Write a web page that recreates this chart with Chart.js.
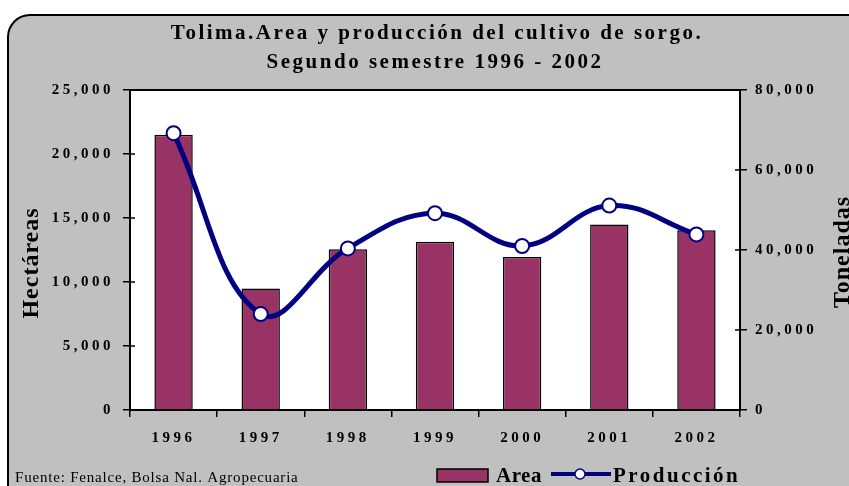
<!DOCTYPE html>
<html>
<head>
<meta charset="utf-8">
<script src="https://cdn.jsdelivr.net/npm/chart.js@4.4.1/dist/chart.umd.min.js"></script>
<style>
    body { margin: 0; background: #fff; }
    #wrap { width: 849px; height: 486px; }
</style>
</head>
<body>
<div id="wrap"><canvas id="chart" width="849" height="486"></canvas></div>
<script>
const years = ["1996", "1997", "1998", "1999", "2000", "2001", "2002"];
const area = [21500, 9500, 12550, 13150, 11950, 14500, 14050];
const produccion = [69200, 24000, 40400, 49200, 41000, 51100, 43900];
const areaTicks = [0, 5000, 10000, 15000, 20000, 25000];
const prodTicks = [0, 20000, 40000, 60000, 80000];

const serif = "'Liberation Serif', 'Times New Roman', serif";
const maroon = "#993366";
const navy = "#000080";

const fmt = (v) => v.toLocaleString("en-US");

// frame, titles, legend and source note
const decor = {
    id: "decor",
    beforeDraw(chart) {
        const { ctx, chartArea: a } = chart;
        ctx.save();
        ctx.fillStyle = "#fff";
        ctx.fillRect(0, 0, chart.width, chart.height);
        ctx.beginPath();
        ctx.roundRect(8, 15, 880, 520, 22);
        ctx.fillStyle = "#c0c0c0";
        ctx.fill();
        ctx.lineWidth = 2;
        ctx.strokeStyle = "#000";
        ctx.stroke();
        ctx.fillStyle = "#fff";
        ctx.fillRect(a.left, a.top, a.right - a.left, a.bottom - a.top);
        ctx.restore();
        ctx.letterSpacing = "3.5px";
    },
    afterDatasetsDraw(chart) {
        // tick marks poke a few pixels inside the plot too
        const { ctx, chartArea: a, scales } = chart;
        ctx.save();
        ctx.strokeStyle = "#000";
        ctx.lineWidth = 1.5;
        ctx.beginPath();
        areaTicks.forEach((v) => {
            const y = scales.y.getPixelForValue(v);
            ctx.moveTo(a.left, y);
            ctx.lineTo(a.left + 5, y);
        });
        prodTicks.forEach((v) => {
            const y = scales.y1.getPixelForValue(v);
            ctx.moveTo(a.right, y);
            ctx.lineTo(a.right - 5, y);
        });
        ctx.stroke();
        ctx.restore();
    },
    afterDraw(chart) {
        const { ctx, chartArea: a } = chart;
        ctx.save();
        ctx.strokeStyle = "#000";
        ctx.lineWidth = 2;
        ctx.strokeRect(a.left, a.top, a.right - a.left, a.bottom - a.top);

        ctx.fillStyle = "#000";
        ctx.textAlign = "center";
        ctx.textBaseline = "alphabetic";
        ctx.letterSpacing = "2.5px";
        ctx.font = "bold 21px " + serif;
        ctx.fillText("Tolima.Area y producción del cultivo de sorgo.", 437, 39);
        ctx.fillText("Segundo semestre 1996 - 2002", 435, 68);

        ctx.letterSpacing = "1px";
        ctx.font = "bold 24px " + serif;
        ctx.save();
        ctx.translate(38, 263);
        ctx.rotate(-Math.PI / 2);
        ctx.fillText("Hectáreas", 0, 0);
        ctx.restore();
        ctx.save();
        ctx.translate(849, 252);
        ctx.rotate(-Math.PI / 2);
        ctx.fillText("Toneladas", 0, 0);
        ctx.restore();

        // legend
        ctx.fillStyle = maroon;
        ctx.fillRect(437, 469, 51, 13);
        ctx.lineWidth = 1.5;
        ctx.strokeRect(437, 469, 51, 13);
        ctx.fillStyle = "#000";
        ctx.textAlign = "left";
        ctx.font = "bold 21px " + serif;
        ctx.letterSpacing = "0.5px";
        ctx.fillText("Area", 496, 482);
        ctx.strokeStyle = navy;
        ctx.lineWidth = 4;
        ctx.beginPath();
        ctx.moveTo(551, 474);
        ctx.lineTo(611, 474);
        ctx.stroke();
        ctx.beginPath();
        ctx.arc(580, 474, 5, 0, Math.PI * 2);
        ctx.fillStyle = "#fff";
        ctx.fill();
        ctx.lineWidth = 1.5;
        ctx.stroke();
        ctx.fillStyle = "#000";
        ctx.letterSpacing = "2.5px";
        ctx.fillText("Producción", 613, 482);

        ctx.letterSpacing = "0.8px";
        ctx.font = "15px " + serif;
        ctx.fillText("Fuente: Fenalce, Bolsa Nal. Agropecuaria", 15, 482);
        ctx.restore();
    },
};

new Chart(document.getElementById("chart"), {
    data: {
        labels: years,
        datasets: [
            {
                type: "line",
                label: "Producción",
                data: produccion,
                yAxisID: "y1",
                borderColor: navy,
                borderWidth: 5,
                tension: 0.4,
                pointRadius: 7,
                pointBackgroundColor: "#fff",
                pointBorderColor: navy,
                pointBorderWidth: 2,
                order: 0,
            },
            {
                type: "bar",
                label: "Area",
                data: area,
                yAxisID: "y",
                backgroundColor: maroon,
                borderColor: "#000",
                borderWidth: 1.5,
                barPercentage: 0.44,
                categoryPercentage: 1,
                order: 1,
            },
        ],
    },
    options: {
        responsive: false,
        animation: false,
        layout: { padding: { top: 90, left: 0, right: 0, bottom: 0 } },
        plugins: {
            legend: { display: false },
            title: { display: false },
            tooltip: { enabled: false },
        },
        scales: {
            x: {
                offset: true,
                afterFit: (s) => { s.height = 76; },
                grid: { offset: true, drawOnChartArea: false, tickLength: 7, color: "#000", lineWidth: 1.5 },
                border: { color: "#000", width: 2 },
                ticks: { color: "#000", padding: 12, font: { family: serif, size: 15, weight: "bold" } },
            },
            y: {
                position: "left",
                min: 0,
                max: 25000,
                afterFit: (s) => { s.width = 130; },
                afterBuildTicks: (s) => { s.ticks = areaTicks.map((v) => ({ value: v })); },
                grid: { drawOnChartArea: false, tickLength: 7, color: "#000", lineWidth: 1.5 },
                border: { color: "#000", width: 2 },
                ticks: { color: "#000", padding: 9, callback: fmt, font: { family: serif, size: 15, weight: "bold" } },
            },
            y1: {
                position: "right",
                min: 0,
                max: 80000,
                afterFit: (s) => { s.width = 109; },
                afterBuildTicks: (s) => { s.ticks = prodTicks.map((v) => ({ value: v })); },
                grid: { drawOnChartArea: false, tickLength: 7, color: "#000", lineWidth: 1.5 },
                border: { color: "#000", width: 2 },
                ticks: { color: "#000", padding: 8, callback: fmt, font: { family: serif, size: 15, weight: "bold" } },
            },
        },
    },
    plugins: [decor],
});
</script>
</body>
</html>
